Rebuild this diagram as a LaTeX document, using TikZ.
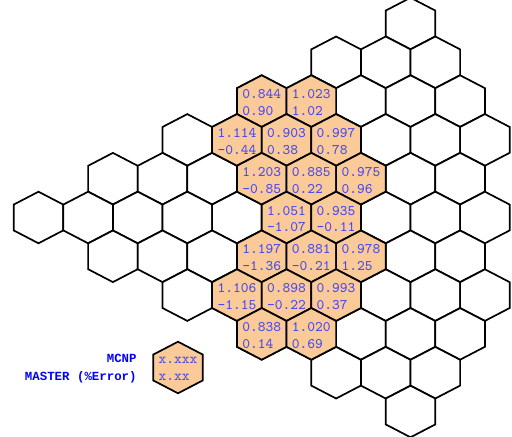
\documentclass[tikz,border=0pt]{standalone}
\usepackage{fontspec}
\newfontfamily\legendfont{Liberation Mono}
\definecolor{cellfill}{RGB}{250,202,152}
\definecolor{valblue}{RGB}{72,72,240}
\definecolor{legblue}{RGB}{0,0,255}

\tikzset{
  hexcell/.pic={
    \path[pic actions] (0,-25.8) -- (24.8,-12.9) -- (24.8,12.9) -- (0,25.8)
      -- (-24.8,12.9) -- (-24.8,-12.9) -- cycle;
  }
}

\begin{document}
\begin{tikzpicture}[x=0.5pt,y=-0.5pt,
    cell/.style={draw=black,line width=0.85pt,line join=miter,fill=white},
    fuel/.style={cell,fill=cellfill},
    val/.style={font=\ttfamily\fontsize{7.3}{8.4}\selectfont,text=valblue,
                align=left,inner sep=0pt},
    leg/.style={font=\legendfont\bfseries\fontsize{6.2}{8.75}\selectfont,
                text=legblue,align=right,inner sep=0pt}
]
  \useasboundingbox (0,0) rectangle (512,437);

  % Core grid
  \foreach \r/\kmin/\n in {0/0/1,1/-3/3,2/-6/5,3/-9/7,4/-12/8,5/-15/10,
                           6/-12/8,7/-9/7,8/-6/5,9/-3/3,10/0/1}
    \foreach \i in {1,...,\n}
      \pic[cell] at ({410.5+24.8*(\kmin+2*\i-2)},{23.5+38.8*\r}) {hexcell};

  % Assemblies with values
  \foreach \r/\k/\mcnp/\err [count=\c] in {
      2/-6/0.844/0.90, 2/-4/1.023/1.02,
      3/-7/1.114/-0.44, 3/-5/0.903/0.38, 3/-3/0.997/0.78,
      4/-6/1.203/-0.85, 4/-4/0.885/0.22, 4/-2/0.975/0.96,
      5/-5/1.051/-1.07, 5/-3/0.935/-0.11,
      6/-6/1.197/-1.36, 6/-4/0.881/-0.21, 6/-2/0.978/1.25,
      7/-7/1.106/-1.15, 7/-5/0.898/-0.22, 7/-3/0.993/0.37,
      8/-6/0.838/0.14, 8/-4/1.020/0.69}
  {
    \pic[fuel] at ({410.5+24.8*\k},{23.5+38.8*\r}) {hexcell};
    \node[val] (v\c) at ({410.5+24.8*\k},{25+38.8*\r}) {\mcnp\\\err};
  }

  % Legend
  \pic[fuel] at (178,367.5) {hexcell};
  \node[val] (legval) at (178,369) {x.xxx\\x.xx};
  \node[leg,anchor=east] (legtxt) at (137,368.75) {MCNP\\MASTER (\%Error)};
\end{tikzpicture}
\end{document}
